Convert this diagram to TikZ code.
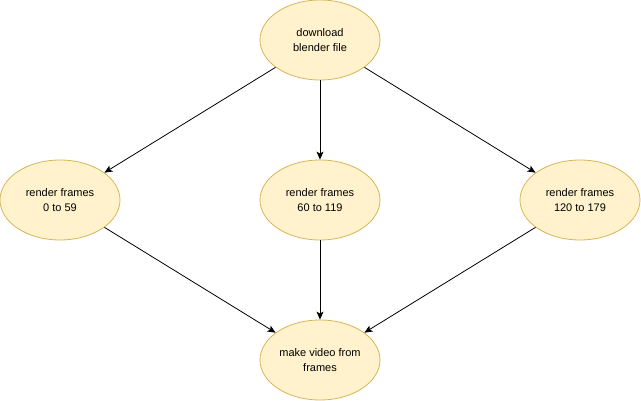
\documentclass[tikz,border=0pt]{standalone}
\usepackage{fontspec}
\setmainfont{Liberation Sans}
\usetikzlibrary{shapes.geometric,arrows.meta}
\definecolor{fillY}{HTML}{FFF2CC}
\definecolor{strokeY}{HTML}{D6B656}
\begin{document}
\begin{tikzpicture}[x=1pt,y=-1pt,
  task/.style={ellipse,draw=strokeY,fill=fillY,line width=0.8pt,minimum width=120pt,minimum height=80pt,inner sep=0pt,align=center,font=\fontsize{11pt}{15.5pt}\selectfont},
  conn/.style={line width=0.8pt,-{Stealth[length=8pt,width=7pt,inset=2pt]}}]
\useasboundingbox (0,0) rectangle (641,401);
\node[task] (dl) at (320,40) {download\\blender file};
\node[task] (r1) at (60,200) {render frames\\0 to 59};
\node[task] (r2) at (320,200) {render frames\\60 to 119};
\node[task] (r3) at (580,200) {render frames\\120 to 179};
\node[task] (mv) at (320,360) {make video from\\frames};
\draw[conn] (dl) -- (r1);
\draw[conn] (dl) -- (r2);
\draw[conn] (dl) -- (r3);
\draw[conn] (r1) -- (mv);
\draw[conn] (r2) -- (mv);
\draw[conn] (r3) -- (mv);
\end{tikzpicture}
\end{document}
